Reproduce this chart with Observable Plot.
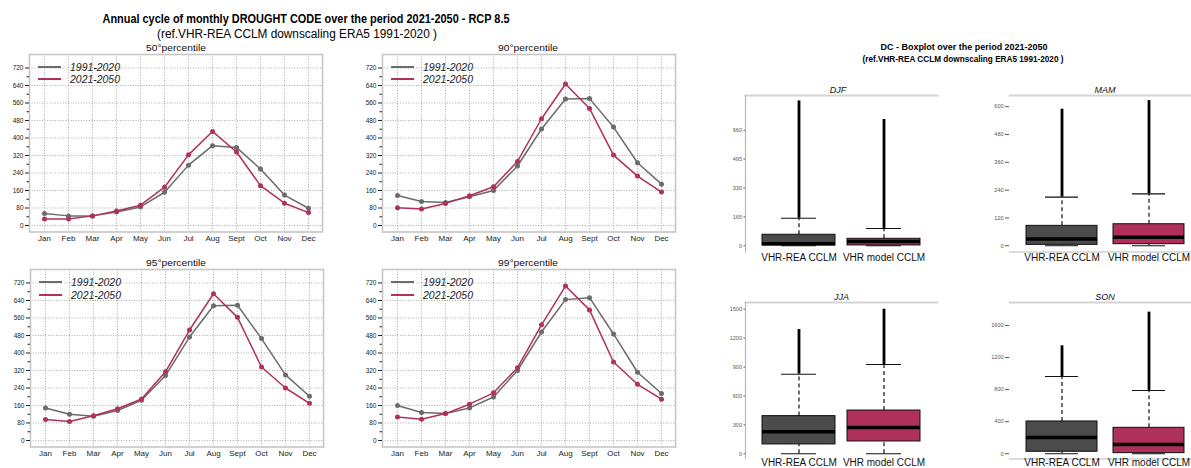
<!DOCTYPE html>
<html>
<head>
<meta charset="utf-8">
<script src="https://cdn.jsdelivr.net/npm/d3@7"></script>
<script src="https://cdn.jsdelivr.net/npm/@observablehq/plot@0.6"></script>
<style>
  html, body { margin: 0; padding: 0; background: #fff; overflow: hidden; }
  #page { position: relative; width: 1191px; height: 468px; overflow: hidden; background: #fff;
          font-family: "Liberation Sans", Arial, Helvetica, sans-serif; }
  #page svg { position: absolute; }
</style>
</head>
<body>
<div id="page"></div>
<script>
// ---- Monthly Drought Code annual cycle (percentiles of the daily DC) ----
const months = ["Jan","Feb","Mar","Apr","May","Jun","Jul","Aug","Sept","Oct","Nov","Dec"];
const periods = ["1991-2020", "2021-2050"];
const percentileTitles = ["50°percentile", "90°percentile", "95°percentile", "99°percentile"];

const p50_ref = [55, 44, 44, 62, 85, 152, 276, 365, 357, 258, 139, 79];
const p50_fut = [30, 30, 44, 66, 93, 175, 323, 430, 336, 182, 102, 59];
const p90_ref = [137, 110, 105, 131, 160, 272, 441, 578, 580, 450, 287, 189];
const p90_fut = [81, 75, 101, 136, 177, 293, 488, 647, 535, 322, 226, 153];
const p95_ref = [149, 120, 111, 137, 184, 297, 473, 616, 618, 466, 300, 202];
const p95_fut = [96, 87, 113, 145, 190, 314, 505, 671, 563, 336, 240, 170];
const p99_ref = [160, 128, 123, 149, 199, 320, 496, 644, 653, 487, 312, 215];
const p99_fut = [107, 97, 123, 166, 218, 333, 529, 706, 597, 359, 257, 189];

const dcTicks = [0, 80, 160, 240, 320, 400, 480, 560, 640, 720];
const dcMinorTicks = [40, 120, 200, 280, 360, 440, 520, 600, 680];

// ---- Seasonal boxplots: VHR-REA CCLM vs VHR model CCLM ----
const boxGroups = ["VHR-REA CCLM", "VHR model CCLM"];
const seasons = ["DJF", "MAM", "JJA", "SON"];
// each entry: [VHR-REA CCLM, VHR model CCLM]
const whiskerLow  = { DJF: [0, 0],     MAM: [0, 0],     JJA: [0, 0],       SON: [0, 0] };
const quart1      = { DJF: [2, 2],     MAM: [4, 7],     JJA: [97, 128],    SON: [25, 8] };
const medianDC    = { DJF: [12, 24],   MAM: [29, 37],   JJA: [228, 273],   SON: [204, 116] };
const quart3      = { DJF: [63, 40],   MAM: [86, 93],   JJA: [391, 449],   SON: [403, 324] };
const whiskerHigh = { DJF: [157, 99],  MAM: [210, 224], JJA: [826, 926],   SON: [964, 790] };
const outlierMax  = { DJF: [827, 721], MAM: [589, 626], JJA: [1289, 1500], SON: [1347, 1766] };
const seasonTicks = {
  DJF: [0, 165, 330, 495, 660],
  MAM: [0, 120, 240, 360, 480, 600],
  JJA: [0, 300, 600, 900, 1200, 1500],
  SON: [0, 400, 800, 1200, 1600]
};

const FONT = '"Liberation Sans", Arial, Helvetica, sans-serif';
const greyLine = "#6b6b6b", redLine = "#b0305f";
const boxGrey = "#4b4b4b", boxRed = "#b0305c";

const page = document.getElementById("page");

// text block centred on (cx, cy), optionally squeezed to a given width
function label(text, o) {
  const d = document.createElement("div");
  d.textContent = text;
  Object.assign(d.style, {
    position: "absolute", left: o.cx + "px", top: o.cy + "px", whiteSpace: "nowrap",
    fontSize: o.size + "px", fontWeight: o.bold ? "bold" : "normal",
    fontStyle: o.italic ? "italic" : "normal", color: o.color || "#000",
    lineHeight: "1", fontFamily: FONT
  });
  page.appendChild(d);
  const w = d.getBoundingClientRect().width;
  const sx = o.width ? o.width / w : 1;
  d.style.transform = `translate(-50%, -50%) scaleX(${sx})`;
  return d;
}

function place(svg, left, top) {
  svg.style.left = left + "px";
  svg.style.top = top + "px";
  page.appendChild(svg);
}

// ---- titles ----
label("Annual cycle of monthly DROUGHT CODE over the period 2021-2050 - RCP 8.5",
      { cx: 306, cy: 19, size: 13.5, bold: true, width: 407 });
label("(ref.VHR-REA CCLM downscaling ERA5 1991-2020 )",
      { cx: 297, cy: 33.5, size: 12, width: 280 });
label("DC - Boxplot over the period 2021-2050",
      { cx: 963.5, cy: 46.5, size: 9, bold: true, width: 167 });
label("(ref.VHR-REA CCLM downscaling ERA5 1991-2020 )",
      { cx: 962.5, cy: 59, size: 8.5, bold: true, width: 201 });

// ---- line panels ----
const LP = { ml: 30, mr: 4, mt: 4, mb: 16, fw: 293, fh: 177.5 };

function linePanel(title, ref, fut, fx, fy) {
  const rows = months.flatMap((m, i) => [
    { month: m, period: periods[0], dc: ref[i] },
    { month: m, period: periods[1], dc: fut[i] }
  ]);
  const svg = Plot.plot({
    width: LP.ml + LP.fw + LP.mr,
    height: LP.mt + LP.fh + LP.mb,
    marginLeft: LP.ml, marginRight: LP.mr, marginTop: LP.mt, marginBottom: LP.mb,
    style: { fontFamily: FONT, background: "transparent", overflow: "visible" },
    x: { type: "point", domain: months, padding: 0.42 },
    y: { domain: [-29.7, 781.7] },
    color: { domain: periods, range: [greyLine, redLine] },
    marks: [
      Plot.gridY(dcTicks, { stroke: "#7a7a7a", strokeOpacity: 0.9, strokeWidth: 0.7, strokeDasharray: "1,1.6" }),
      Plot.gridX(months, { stroke: "#7a7a7a", strokeOpacity: 0.9, strokeWidth: 0.7, strokeDasharray: "1,1.6" }),
      Plot.frame({ stroke: "#c6c6c6", strokeWidth: 1.6 }),
      Plot.axisY(dcTicks, { tickSize: 4, tickPadding: 2, fontSize: 6.5, color: "#222", label: null }),
      Plot.axisY(dcMinorTicks, { tickSize: 2.5, tickFormat: () => "", color: "#222", label: null }),
      Plot.axisX(months, { tickSize: 0, tickPadding: 3.8, fontSize: 8, color: "#222", label: null }),
      Plot.line(rows, { x: "month", y: "dc", z: "period", stroke: "period", strokeWidth: 1.5 }),
      Plot.dot(rows, { x: "month", y: "dc", fill: "period", r: 2.5 })
    ]
  });
  place(svg, fx - LP.ml, fy - LP.mt);
  label(title, { cx: fx + LP.fw / 2, cy: fy - 6.5, size: 9.5, width: 60, color: "#111" });
  // legend in the top-left corner of the panel
  periods.forEach((p, i) => {
    const ln = document.createElement("div");
    Object.assign(ln.style, {
      position: "absolute", left: (fx + 9) + "px", top: (fy + 11.5 + i * 12.8) + "px",
      width: "23px", height: "2px", background: i === 0 ? greyLine : redLine
    });
    page.appendChild(ln);
    label(p, { cx: fx + 41 + 25, cy: fy + 12.5 + i * 12.8, size: 10.5, italic: true, width: 50, color: "#222" });
  });
}

linePanel(percentileTitles[0], p50_ref, p50_fut, 29, 54);
linePanel(percentileTitles[1], p90_ref, p90_fut, 381.7, 54);
linePanel(percentileTitles[2], p95_ref, p95_fut, 29.5, 269.3);
linePanel(percentileTitles[3], p99_ref, p99_fut, 381.7, 269.3);

// ---- boxplot panels ----
const BP = { ml: 34, mr: 2, mt: 2, mb: 16, fh: 156.5 };

function boxPanel(season, o) {
  const rows = boxGroups.map((g, i) => ({
    group: g,
    low: whiskerLow[season][i], q1: quart1[season][i], median: medianDC[season][i],
    q3: quart3[season][i], high: whiskerHigh[season][i], max: outlierMax[season][i]
  }));
  const capInset = 19;
  const svg = Plot.plot({
    width: BP.ml + o.fw + BP.mr,
    height: BP.mt + BP.fh + BP.mb,
    marginLeft: BP.ml, marginRight: BP.mr, marginTop: BP.mt, marginBottom: BP.mb,
    style: { fontFamily: FONT, background: "transparent", overflow: "visible" },
    x: { type: "band", domain: boxGroups, paddingInner: o.pi, paddingOuter: o.po },
    y: { domain: o.domain },
    color: { domain: boxGroups, range: [boxGrey, boxRed] },
    marks: [
      Plot.frame({ anchor: "top", stroke: "#d4d4d4", strokeWidth: 1.8 }),
      Plot.frame({ anchor: o.side, stroke: "#b8b8b8", strokeWidth: 1.2 }),
      Plot.axisY(seasonTicks[season], {
        tickSize: o.side === "left" ? 1.5 : 4, tickPadding: 2, fontSize: 5.5,
        tickFormat: d => String(d), color: "#555", label: null
      }),
      Plot.axisX(boxGroups, { tickSize: 0, tickPadding: o.xPad, fontSize: 10, color: "#111", label: null }),
      Plot.ruleX(rows, { x: "group", y1: "q3", y2: "high", stroke: "#111", strokeWidth: 1.2, strokeDasharray: "4,3" }),
      Plot.ruleX(rows, { x: "group", y1: "low", y2: "q1", stroke: "#111", strokeWidth: 1.2, strokeDasharray: "4,3" }),
      Plot.tickY(rows, { x: "group", y: "low", stroke: "#111", strokeWidth: 1.1, insetLeft: capInset, insetRight: capInset }),
      Plot.barY(rows, { x: "group", y1: "q1", y2: "q3", fill: "group", stroke: "#111", strokeWidth: 1 }),
      Plot.tickY(rows, { x: "group", y: "median", stroke: "#000", strokeWidth: 3.5 }),
      Plot.ruleX(rows, { x: "group", y1: "high", y2: "max", stroke: "#000", strokeWidth: 2.8 }),
      Plot.tickY(rows, { x: "group", y: "high", stroke: "#111", strokeWidth: 1.1, insetLeft: capInset, insetRight: capInset })
    ]
  });
  place(svg, o.fx - BP.ml, o.fy - BP.mt);
  label(season, { cx: o.tx, cy: o.fy - 5.5, size: 9, italic: true, color: "#111" });
}

boxPanel(seasons[0], { fx: 745,  fy: 95,  fw: 192,   pi: 0.147, po: 0.195, side: "left",   domain: [-35.4, 857.9],  tx: 838,   xPad: 1.7 });
boxPanel(seasons[1], { fx: 1009, fy: 95,  fw: 191.8, pi: 0.18,  po: 0.182, side: "bottom", domain: [-26.7, 648.1],  tx: 1105,  xPad: 1.7 });
boxPanel(seasons[2], { fx: 745,  fy: 302, fw: 192,   pi: 0.147, po: 0.195, side: "left",   domain: [-53.9, 1569.5], tx: 841.5, xPad: 0.2 });
boxPanel(seasons[3], { fx: 1009, fy: 302, fw: 191.8, pi: 0.18,  po: 0.182, side: "bottom", domain: [-64.8, 1886.5], tx: 1105,  xPad: 0.2 });
</script>
</body>
</html>
